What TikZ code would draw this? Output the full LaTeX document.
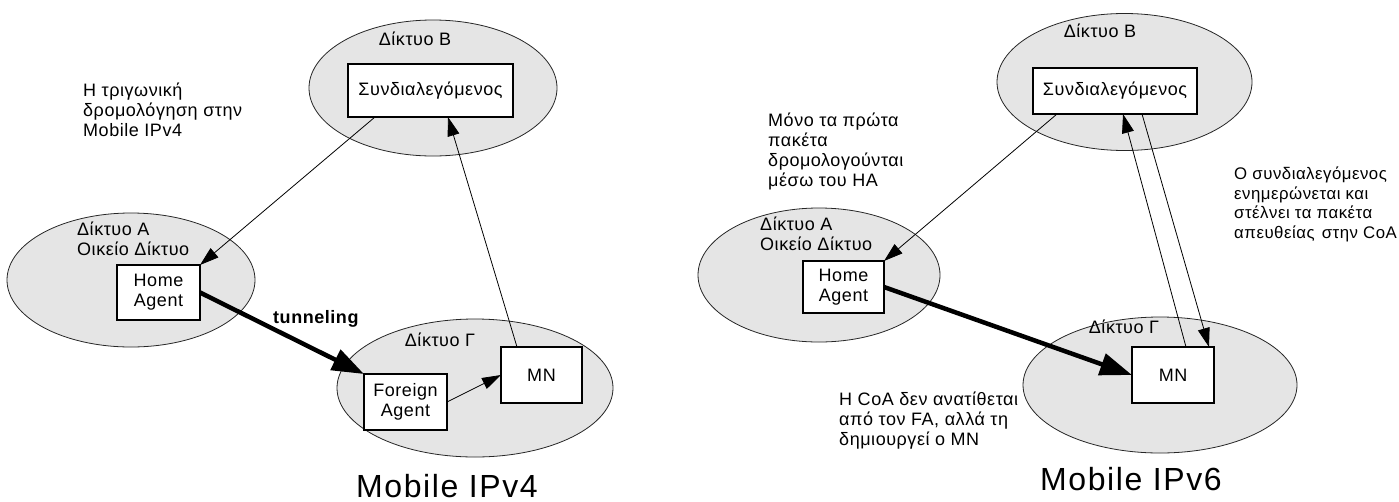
\documentclass[tikz,border=0pt]{standalone}
\usepackage{fontspec}
\setmainfont{Liberation Sans}[LetterSpace=3]
\newfontfamily\titlefont[LetterSpace=5]{Liberation Sans}
\usetikzlibrary{arrows.meta,shapes.geometric}
\begin{document}
\begin{tikzpicture}[x=1pt,y=-1pt,
  net/.style={draw=black!85,line width=0.8pt,fill=black!10,ellipse,inner sep=0pt,outer sep=0pt},
  hostbox/.style={draw=black,line width=1.2pt,fill=white,rectangle,inner sep=0pt,outer sep=0pt,align=center,
    font=\fontsize{18}{20}\selectfont},
  lbl/.style={inner sep=0pt,font=\fontsize{18}{20}\selectfont},
  note/.style={inner sep=0pt,align=left,anchor=base west,font=\fontsize{18}{20}\selectfont},
  title/.style={inner sep=0pt,anchor=base,font=\titlefont\fontsize{32}{34}\selectfont},
  flow/.style={draw=black,line width=0.8pt,-{Triangle[length=19pt,width=12pt]}},
  tunnel/.style={draw=black,line width=4.5pt,-{Triangle[length=32pt,width=22pt]}}
]
\useasboundingbox (0,0) rectangle (1399,501);

% ---------------- Mobile IPv4 ----------------
\node[net,minimum width=248pt,minimum height=136pt] (nB1) at (433,88) {};
\node[net,minimum width=248pt,minimum height=134pt] (nA1) at (131,280) {};
\node[net,minimum width=276pt,minimum height=138pt] (nC1) at (475,388) {};

% multi-line texts are anchored at the baseline of their last line
\node[lbl,anchor=base] (lB1) at (415,45) {Δίκτυο B};
\node[note] (lA1) at (77,255) {Δίκτυο A\\Οικείο Δίκτυο};
\node[lbl,anchor=base] (lC1) at (440,346) {Δίκτυο Γ};

\node[hostbox,minimum width=165pt,minimum height=53pt] (cn1) at (430.5,90.5) {Συνδιαλεγόμενος};
\node[hostbox,minimum width=83pt,minimum height=55pt] (ha1) at (158.5,292.5) {Home\\Agent};
\node[hostbox,minimum width=83pt,minimum height=56pt] (fa1) at (405.5,402) {Foreign\\Agent};
\node[hostbox,minimum width=81pt,minimum height=56pt] (mn1) at (541.5,375) {MN};

\node[note] (t1) at (83,136) {Η τριγωνική\\δρομολόγηση στην\\Mobile IPv4};
\node[lbl,anchor=base west,font=\fontsize{18}{20}\selectfont\bfseries] (tun) at (273,323) {tunneling};
\node[title] (ttl1) at (447,497) {Mobile IPv4};

\draw[flow] ([xshift=27pt]cn1.south west) -- (ha1.north east);
\draw[flow] ([xshift=16pt]mn1.north west) -- ([xshift=100pt]cn1.south west);
\draw[tunnel] (ha1.east) -- (fa1.north west);
\draw[flow] (fa1.east) -- (mn1.west);

% ---------------- Mobile IPv6 ----------------
\node[net,minimum width=255pt,minimum height=137pt] (nB2) at (1124.5,82) {};
\node[net,minimum width=242pt,minimum height=134pt] (nA2) at (819,275) {};
\node[net,minimum width=274pt,minimum height=136pt] (nC2) at (1160,385) {};

\node[lbl,anchor=base] (lB2) at (1100,37) {Δίκτυο B};
\node[note] (lA2) at (760,250) {Δίκτυο A\\Οικείο Δίκτυο};
\node[lbl,anchor=base] (lC2) at (1124,333) {Δίκτυο Γ};

\node[hostbox,minimum width=164pt,minimum height=46pt] (cn2) at (1115,91) {Συνδιαλεγόμενος};
\node[hostbox,minimum width=81pt,minimum height=52pt] (ha2) at (843.5,287) {Home\\Agent};
\node[hostbox,minimum width=82pt,minimum height=56pt] (mn2) at (1173,375) {MN};

\node[note] (t2) at (768,186) {Μόνο τα πρώτα\\πακέτα\\δρομολογούνται\\μέσω του HA};
\node[note,font=\fontsize{16.8}{19.5}\selectfont] (t3) at (1234,238) {Ο συνδιαλεγόμενος\\ενημερώνεται και\\στέλνει τα πακέτα\\απευθείας\hspace{2pt} στην CoA};
\node[note] (t4) at (839,445) {Η CoA δεν ανατίθεται\\από τον FA, αλλά τη\\δημιουργεί ο MN};
\node[title] (ttl2) at (1131,490) {Mobile IPv6};

\draw[flow] ([xshift=24pt]cn2.south west) -- (ha2.north east);
\draw[tunnel] (ha2.east) -- (mn2.west);
\draw[flow] ([xshift=54pt]mn2.north west) -- ([xshift=90pt]cn2.south west);
\draw[flow] ([xshift=109pt]cn2.south west) -- ([xshift=-5pt]mn2.north east);
\end{tikzpicture}
\end{document}
